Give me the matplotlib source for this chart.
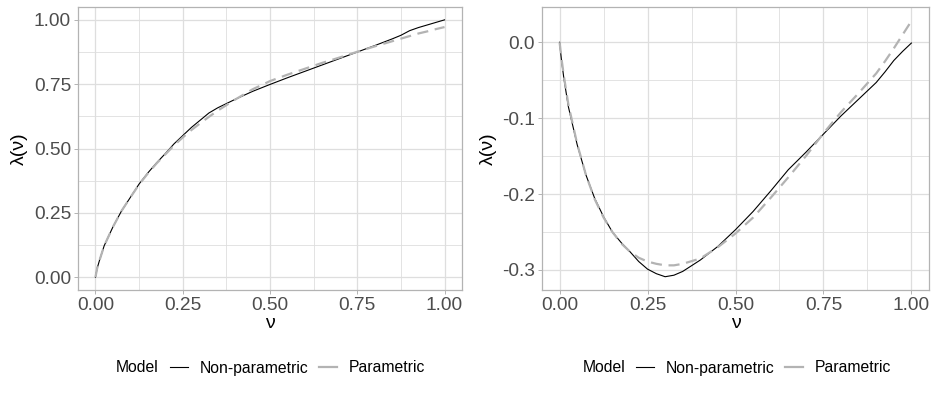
import numpy as np
import matplotlib
matplotlib.use("Agg")
import matplotlib.pyplot as plt
from matplotlib.ticker import MultipleLocator

# evaluation grid for nu
nu = [0, 0.005, 0.012, 0.025, 0.05, 0.075, 0.1, 0.125, 0.15, 0.175, 0.2,
      0.225, 0.25, 0.275, 0.3, 0.325, 0.35, 0.4, 0.45, 0.5, 0.55, 0.6, 0.65,
      0.7, 0.75, 0.8, 0.85, 0.875, 0.9, 0.925, 0.95, 0.975, 1.0]

# left panel
left_nonpar = [0, 0.035, 0.067, 0.122, 0.195, 0.258, 0.31, 0.362, 0.405,
               0.444, 0.48, 0.518, 0.55, 0.582, 0.61, 0.638, 0.658, 0.691,
               0.722, 0.749, 0.775, 0.80, 0.825, 0.85, 0.875, 0.9, 0.926,
               0.94, 0.958, 0.97, 0.98, 0.99, 1.0]
left_par = [0, 0.035, 0.067, 0.122, 0.195, 0.258, 0.31, 0.36, 0.403,
            0.442, 0.477, 0.512, 0.543, 0.572, 0.598, 0.623, 0.647, 0.69,
            0.73, 0.762, 0.787, 0.81, 0.833, 0.854, 0.876, 0.897, 0.917,
            0.927, 0.937, 0.947, 0.955, 0.964, 0.972]

# right panel
right_nonpar = [0, -0.022, -0.047, -0.085, -0.135, -0.175, -0.206, -0.23,
                -0.25, -0.264, -0.276, -0.289, -0.299, -0.305, -0.309,
                -0.307, -0.302, -0.287, -0.269, -0.247, -0.223, -0.196,
                -0.168, -0.145, -0.121, -0.097, -0.075, -0.064, -0.053,
                -0.039, -0.024, -0.012, -0.001]
right_par = [0, -0.02, -0.044, -0.082, -0.134, -0.175, -0.207, -0.231,
             -0.25, -0.265, -0.276, -0.284, -0.289, -0.292, -0.294, -0.294,
             -0.292, -0.285, -0.27, -0.252, -0.231, -0.205, -0.178, -0.15,
             -0.12, -0.092, -0.067, -0.054, -0.041, -0.025, -0.008, 0.01,
             0.028]

x_ticks = [0, 0.25, 0.5, 0.75, 1.0]
x_labels = ["0.00", "0.25", "0.50", "0.75", "1.00"]
left_yticks = [0, 0.25, 0.5, 0.75, 1.0]
left_ylabels = ["0.00", "0.25", "0.50", "0.75", "1.00"]
right_yticks = [-0.3, -0.2, -0.1, 0.0]
right_ylabels = ["-0.3", "-0.2", "-0.1", "0.0"]

plt.rcParams['font.family'] = ['Liberation Sans', 'DejaVu Sans']

W, H = 937, 393
fig = plt.figure(figsize=(W / 100, H / 100), dpi=100)

GRID = "#DEDEDE"
BORDER = "#B3B3B3"
GREY = "#B3B3B3"


def px(x0, y0, x1, y1):
    return [x0 / W, 1 - y1 / H, (x1 - x0) / W, (y1 - y0) / H]


def panel(rect, yvals_np, yvals_p, yticks, ylabels, ylim, yminor):
    ax = fig.add_axes(rect)
    ax.plot(nu, yvals_np, color="black", lw=0.8, zorder=2)
    ax.plot(nu, yvals_p, color=GREY, lw=1.6, dashes=(5, 3), zorder=3)
    ax.set_xlim(-0.05, 1.05)
    ax.set_ylim(*ylim)
    ax.set_xticks(x_ticks)
    ax.set_xticklabels(x_labels)
    ax.set_yticks(yticks)
    ax.set_yticklabels(ylabels)
    ax.xaxis.set_minor_locator(MultipleLocator(0.125))
    ax.yaxis.set_minor_locator(MultipleLocator(yminor))
    ax.grid(which="major", color=GRID, lw=0.9)
    ax.grid(which="minor", color=GRID, lw=0.6)
    ax.set_axisbelow(True)
    ax.tick_params(which="major", length=3, width=0.7, color=BORDER,
                   labelsize=13.8, labelcolor="#4D4D4D", pad=2)
    ax.tick_params(which="minor", length=0)
    for s in ax.spines.values():
        s.set_color(BORDER)
        s.set_linewidth(0.9)
    ax.set_xlabel("ν", fontsize=14, labelpad=1)
    ax.set_ylabel("λ(ν)", fontsize=14, labelpad=4)
    return ax


ax1 = panel(px(78, 7, 462, 290), left_nonpar, left_par, left_yticks,
            left_ylabels, (-0.05, 1.05), 0.125)
ax2 = panel(px(542, 7, 929, 290), right_nonpar, right_par, right_yticks,
            right_ylabels, (-0.3265, 0.0465), 0.05)

# legends below each panel
for model_x, line_x in [(116, 170), (583, 636)]:
    fig.text(model_x / W, 1 - 368 / H, "Model", fontsize=11.3,
             va="center", ha="left")
    h1, = plt.plot([], [], color="black", lw=0.8)
    h2, = plt.plot([], [], color=GREY, lw=1.6)
    fig.legend([h1, h2], ["Non-parametric", "Parametric"], ncol=2,
               loc="center left", bbox_to_anchor=(line_x / W, 1 - 368 / H),
               frameon=False, fontsize=11.3, handlelength=1.15,
               handletextpad=0.72, columnspacing=0.72, borderpad=0,
               borderaxespad=0)

fig.savefig("out.png", dpi=100)
